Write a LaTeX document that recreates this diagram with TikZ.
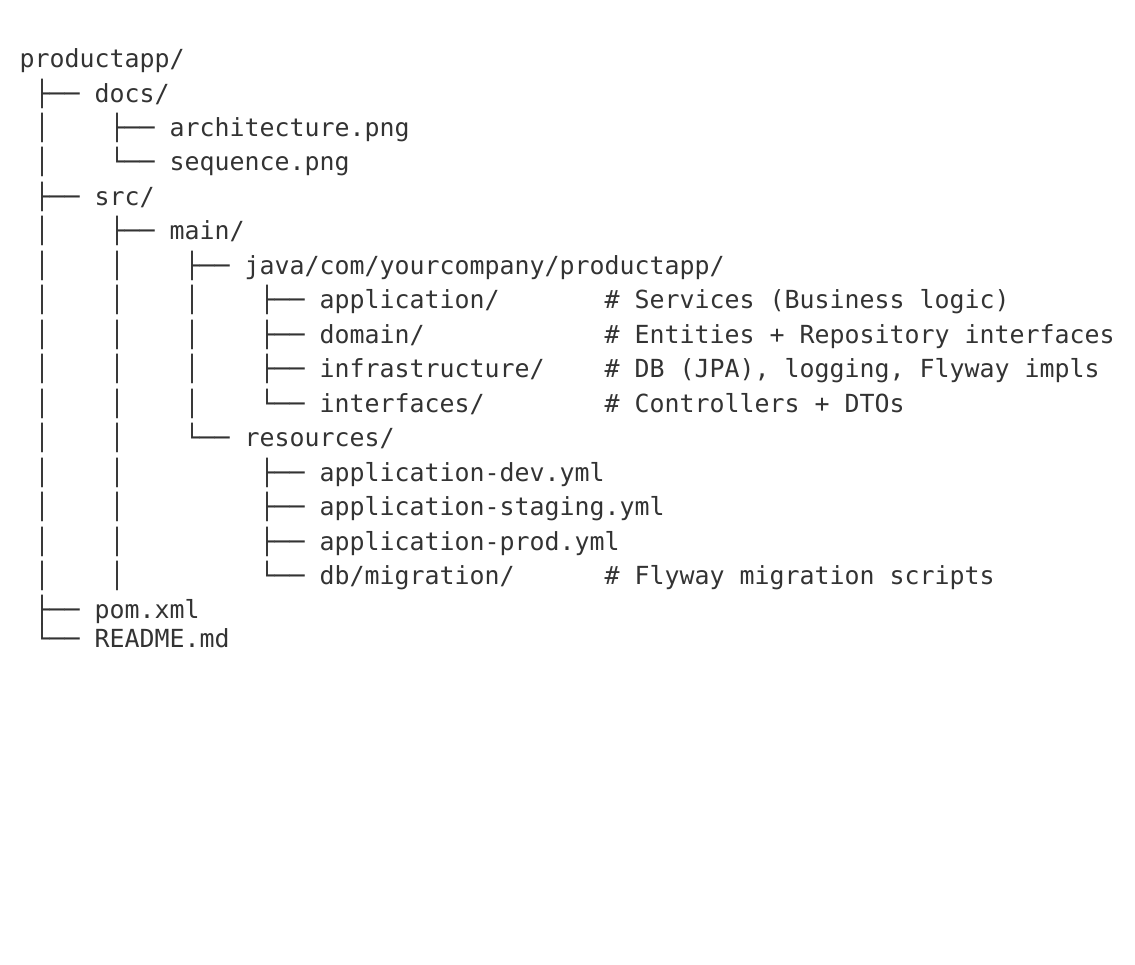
\documentclass[tikz,border=0pt]{standalone}
\usepackage{fontspec}
\usepackage{xcolor}
\newfontfamily\treefont{DejaVu Sans Mono}
\definecolor{treegray}{HTML}{333333}
\tikzset{
  entry/.style={anchor=base west, inner sep=0pt, outer sep=0pt, text=treegray,
    font=\treefont\fontsize{12.46pt}{15pt}\selectfont},
}

\begin{document}
\begin{tikzpicture}[x=0.5pt,y=-0.5pt]
  \useasboundingbox (0,0) rectangle (1135,964);
  \def\colx{19.5}
  \def\cmtx{604.5}

  % tree lines
  \node[entry] (root)    at (\colx, 67.5)  {productapp/};
  \node[entry] (docs)    at (\colx, 102.0) {~├──~docs/};
  \node[entry] (arch)    at (\colx, 136.4) {~│~~~~├──~architecture.png};
  \node[entry] (seq)     at (\colx, 170.9) {~│~~~~└──~sequence.png};
  \node[entry] (src)     at (\colx, 205.4) {~├──~src/};
  \node[entry] (main)    at (\colx, 239.9) {~│~~~~├──~main/};
  \node[entry] (java)    at (\colx, 274.3) {~│~~~~│~~~~├──~java/com/yourcompany/productapp/};
  \node[entry] (app)     at (\colx, 308.8) {~│~~~~│~~~~│~~~~├──~application/};
  \node[entry] (domain)  at (\colx, 343.3) {~│~~~~│~~~~│~~~~├──~domain/};
  \node[entry] (infra)   at (\colx, 377.7) {~│~~~~│~~~~│~~~~├──~infrastructure/};
  \node[entry] (iface)   at (\colx, 412.2) {~│~~~~│~~~~│~~~~└──~interfaces/};
  \node[entry] (res)     at (\colx, 446.7) {~│~~~~│~~~~└──~resources/};
  \node[entry] (dev)     at (\colx, 481.1) {~│~~~~│~~~~~~~~~├──~application-dev.yml};
  \node[entry] (staging) at (\colx, 515.6) {~│~~~~│~~~~~~~~~├──~application-staging.yml};
  \node[entry] (prod)    at (\colx, 550.1) {~│~~~~│~~~~~~~~~├──~application-prod.yml};
  \node[entry] (mig)     at (\colx, 584.6) {~│~~~~│~~~~~~~~~└──~db/migration/};
  \node[entry] (pom)     at (\colx, 618)   {~├──~pom.xml};
  \node[entry] (readme)  at (\colx, 647)   {~└──~README.md};

  % comments
  \node[entry] (app-c)    at (\cmtx, 308.8) {\# Services (Business logic)};
  \node[entry] (domain-c) at (\cmtx, 343.3) {\# Entities + Repository interfaces};
  \node[entry] (infra-c)  at (\cmtx, 377.7) {\# DB (JPA), logging, Flyway impls};
  \node[entry] (iface-c)  at (\cmtx, 412.2) {\# Controllers + DTOs};
  \node[entry] (mig-c)    at (\cmtx, 584.6) {\# Flyway migration scripts};
\end{tikzpicture}
\end{document}
